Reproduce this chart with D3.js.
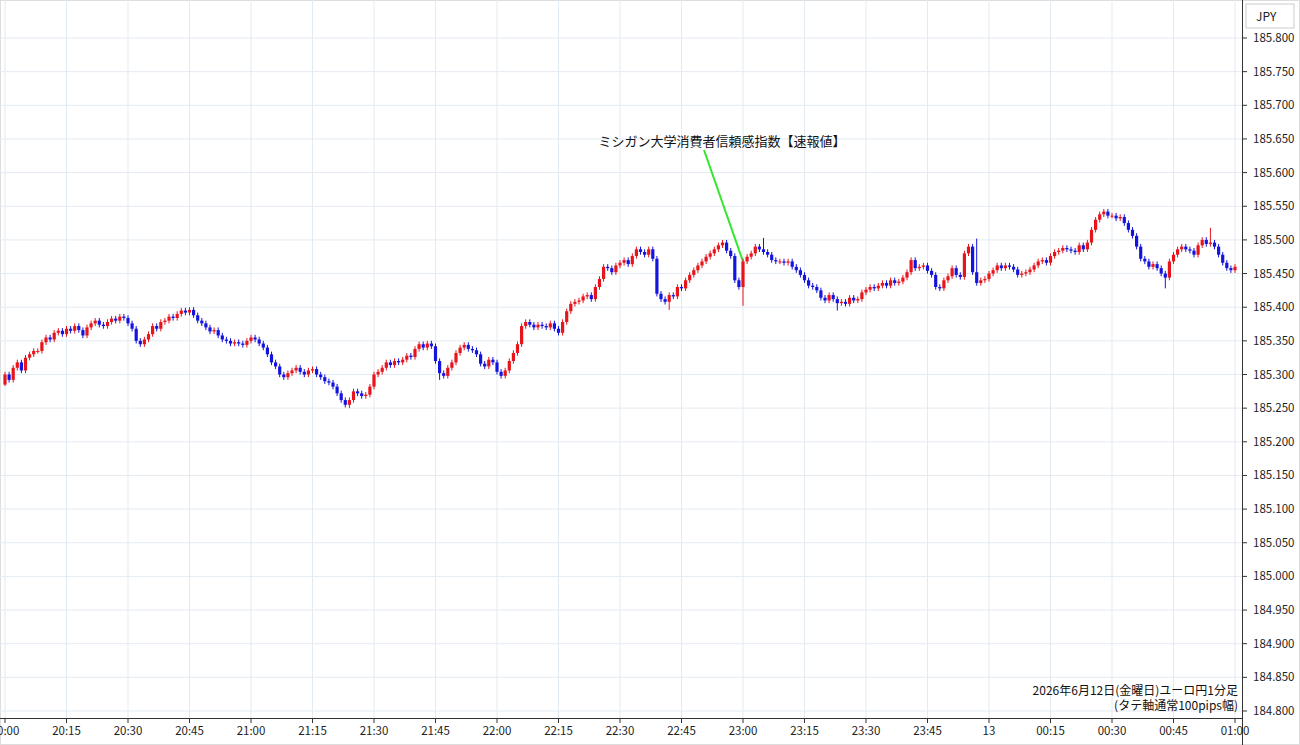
<!DOCTYPE html>
<html><head><meta charset="utf-8">
<script src="https://cdn.jsdelivr.net/npm/d3@7"></script>
<style>body{margin:0;background:#fff}svg{display:block;font-family:"Noto Sans CJK JP","Noto Sans",sans-serif}</style>
</head><body><svg id="c" width="1300" height="745"></svg>
<script>
const startTime = "20:00";
const closes = [
185.300,185.292,185.310,185.318,185.306,185.325,185.330,185.335,185.335,185.348,185.355,185.352,185.362,185.365,185.360,
185.368,185.365,185.372,185.366,185.358,185.370,185.376,185.380,185.374,185.372,185.378,185.383,185.380,185.386,185.384,
185.376,185.368,185.350,185.345,185.352,185.360,185.372,185.368,185.378,185.380,185.386,185.384,185.390,185.395,185.392,
185.396,185.388,185.380,185.376,185.370,185.364,185.366,185.358,185.352,185.350,185.346,185.348,185.346,185.344,185.350,
185.355,185.352,185.346,185.340,185.330,185.318,185.312,185.300,185.296,185.302,185.306,185.310,185.304,185.300,185.306,
185.308,185.300,185.296,185.290,185.288,185.282,185.272,185.262,185.255,185.262,185.275,185.272,185.268,185.270,185.282,
185.300,185.304,185.310,185.318,185.314,185.320,185.318,185.322,185.328,185.326,185.338,185.345,185.340,185.346,185.342,
185.320,185.302,185.298,185.310,185.318,185.332,185.340,185.344,185.338,185.336,185.330,185.316,185.312,185.322,185.318,
185.304,185.298,185.306,185.320,185.332,185.345,185.372,185.378,185.374,185.370,185.374,185.372,185.370,185.376,185.368,
185.362,185.378,185.394,185.405,185.408,185.410,185.416,185.418,185.412,185.430,185.442,185.460,185.458,185.452,185.462,
185.466,185.470,185.464,185.476,185.486,185.482,185.478,185.486,185.472,185.420,185.412,185.408,185.418,185.416,185.430,
185.428,185.440,185.448,185.455,185.462,185.468,185.475,185.480,185.486,185.492,185.496,185.484,185.476,185.440,185.430,
185.468,185.475,185.480,185.490,185.486,185.482,185.478,185.470,185.468,185.468,185.466,185.468,185.460,185.455,185.448,
185.440,185.432,185.430,185.425,185.414,185.410,185.418,185.412,185.406,185.408,185.405,185.414,185.410,185.412,185.422,
185.426,185.430,185.428,185.432,185.436,185.432,185.440,185.436,185.438,185.444,185.452,185.470,185.458,185.460,185.462,
185.454,185.448,185.430,185.428,185.440,185.446,185.458,185.448,185.445,185.480,185.490,185.452,185.436,185.440,185.442,
185.450,185.455,185.462,185.458,185.462,185.460,185.456,185.448,185.450,185.452,185.456,185.462,185.468,185.470,185.466,
185.476,185.482,185.484,185.488,185.486,185.484,185.482,185.492,185.486,185.496,185.515,185.530,185.538,185.542,185.536,
185.536,185.532,185.534,185.525,185.515,185.506,185.490,185.472,185.468,185.460,185.464,185.458,185.450,185.444,185.468,
185.478,185.486,185.490,185.486,185.484,185.478,185.492,185.500,185.494,185.496,185.490,185.478,185.466,185.458,185.455,
185.460];
const firstOpen = 185.285;
// notable wick extremes: [minute index, high, low]
const wickExtremes = [[0,null,185.283],[84,null,185.250],[106,null,185.292],[162,null,185.396],[180,null,185.402],[203,null,185.395],[283,null,185.428],[237,185.502,null],[294,185.518,null],[175,185.500,null],[185,185.503,null]];
const defaultWick = 0.004;
const yTicks = d3.range(0,21).map(i=>+(184.8+i*0.05).toFixed(3));
const xTickLabels = ["20:00","20:15","20:30","20:45","21:00","21:15","21:30","21:45","22:00","22:15","22:30","22:45","23:00","23:15","23:30","23:45","13","00:15","00:30","00:45","01:00"];
const annotation = {text:"ミシガン大学消費者信頼感指数【速報値】", minute:180};
const caption = ["2026年6月12日(金曜日)ユーロ円1分足","(タテ軸通常100pips幅)"];

const candles = closes.map((c,i)=>{
  const o = i===0?firstOpen:closes[i-1];
  let h = Math.max(o,c)+defaultWick, l = Math.min(o,c)-defaultWick;
  return {i,o,c,h,l};
});
wickExtremes.forEach(([i,h,l])=>{ if(h!=null) candles[i].h=h; if(l!=null) candles[i].l=l; });

const svg = d3.select("#c");
const R=1242, T=38, B=711;
const x = d3.scaleLinear().domain([0,300]).range([5,1235]);
const y = d3.scaleLinear().domain([184.8,185.8]).range([B,T]);
const grid = "#e3ebf2";
svg.append("rect").attr("x",0.5).attr("y",0.5).attr("width",1299).attr("height",744).attr("fill","none").attr("stroke","#ddd");
svg.append("clipPath").attr("id","pc").append("rect").attr("x",0).attr("y",0).attr("width",R).attr("height",718);
const g = svg.append("g").attr("clip-path","url(#pc)");
g.selectAll(".hg").data(yTicks).join("line").attr("x1",0).attr("x2",R).attr("y1",d=>y(d)).attr("y2",d=>y(d)).attr("stroke",grid);
g.selectAll(".vg").data(xTickLabels).join("line").attr("x1",(d,i)=>x(i*15)).attr("x2",(d,i)=>x(i*15)).attr("y1",0).attr("y2",718).attr("stroke",grid);
g.append("line").attr("x1",704).attr("y1",150).attr("x2",x(annotation.minute)).attr("y2",y(185.468)).attr("stroke","#33e62e").attr("stroke-width",2);
const col = d=> d.c>=d.o?"#e8141c":"#1414e0";
g.selectAll(".w").data(candles).join("line").attr("x1",d=>x(d.i)).attr("x2",d=>x(d.i)).attr("y1",d=>y(d.h)).attr("y2",d=>y(d.l)).attr("stroke",col).attr("stroke-width",1);
g.selectAll(".b").data(candles).join("rect").attr("x",d=>x(d.i)-1.6).attr("width",3.2)
 .attr("y",d=>y(Math.max(d.o,d.c))).attr("height",d=>Math.max(1,Math.abs(y(d.o)-y(d.c)))).attr("fill",col);
svg.append("line").attr("x1",R+0.5).attr("x2",R+0.5).attr("y1",0).attr("y2",745).attr("stroke","#333");
svg.append("line").attr("x1",0).attr("x2",R).attr("y1",718.5).attr("y2",718.5).attr("stroke","#333");
svg.selectAll(".yt").data(yTicks).join("line").attr("x1",R).attr("x2",R+5).attr("y1",d=>y(d)).attr("y2",d=>y(d)).attr("stroke","#333");
svg.selectAll(".yl").data(yTicks).join("text").attr("x",1253).attr("y",d=>y(d)+4).attr("font-size",11.5).attr("fill","#222").text(d=>d.toFixed(3));
svg.selectAll(".xt").data(xTickLabels).join("line").attr("x1",(d,i)=>x(i*15)).attr("x2",(d,i)=>x(i*15)).attr("y1",718).attr("y2",723).attr("stroke","#333");
svg.selectAll(".xl").data(xTickLabels).join("text").attr("x",(d,i)=>x(i*15)).attr("y",735).attr("text-anchor","middle").attr("font-size",11.5).attr("fill","#222").text(d=>d);
svg.append("rect").attr("x",1246).attr("y",4).attr("width",48).attr("height",24).attr("fill","#fff").attr("stroke","#ccc");
svg.append("text").attr("x",1256).attr("y",21).attr("font-size",12).attr("fill","#222").text("JPY");
svg.append("text").attr("x",722).attr("y",146).attr("text-anchor","middle").attr("font-size",13).attr("fill","#111").text(annotation.text);
svg.selectAll(".cap").data(caption).join("text").attr("x",1238).attr("y",(d,i)=>695+i*15).attr("text-anchor","end").attr("font-size",12).attr("fill","#111").text(d=>d);
</script></body></html>
